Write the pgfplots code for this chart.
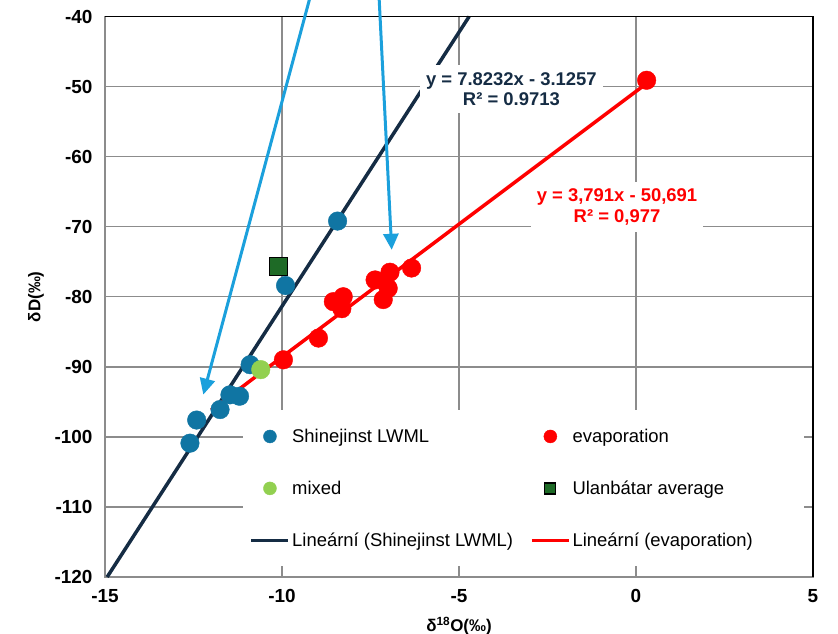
\documentclass[border=0pt]{standalone}
\usepackage{pgfplots}
\pgfplotsset{compat=1.18}
\usepackage{fontspec}
\setmainfont{Liberation Sans}
\usetikzlibrary{arrows.meta}
\definecolor{ptblue}{RGB}{16,117,163}
\definecolor{navy}{RGB}{21,44,68}
\definecolor{evred}{RGB}{255,0,0}
\definecolor{mixgreen}{RGB}{146,208,80}
\definecolor{sqgreen}{RGB}{30,106,38}
\definecolor{arrowblue}{RGB}{27,160,220}
\definecolor{gridgray}{RGB}{140,140,140}
\begin{document}
\begin{tikzpicture}
\begin{axis}[
  at={(105bp,57bp)}, anchor=south west,
  scale only axis, width=708bp, height=560.5bp,
  xmin=-15, xmax=5, ymin=-120, ymax=-40,
  xtick={-15,-10,-5,0,5}, ytick={-120,-110,-100,-90,-80,-70,-60,-50,-40},
  grid=major, major grid style={gridgray, line width=1.4bp},
  axis line style={gridgray, line width=1.4bp},
  major tick length=0pt,
  clip=false,
  /pgf/number format/assume math mode=true,
  tick label style={font=\fontsize{19}{19}\selectfont\bfseries},
  yticklabel style={xshift=-9bp},
  xticklabel style={yshift=-9bp},
  xlabel={\bfseries δ\textsuperscript{18}O(‰)},
  ylabel={\bfseries δD(‰)},
  label style={font=\fontsize{17}{17}\selectfont},
  xlabel style={at={(axis description cs:0.5,0)}, anchor=north, inner sep=0pt, yshift=-40bp},
  ylabel style={at={([xshift=-69bp]axis description cs:0,0.5)}, anchor=center},
  legend image code/.code={\draw[mark repeat=2,mark phase=2,#1] plot coordinates {(0bp,0bp) (18.5bp,0bp) (37bp,0bp)};},
  legend columns=2,
  legend cell align=left,
  legend style={at={(axis cs:-10.918,-107.37)}, anchor=west, inner sep=0pt, draw=none, fill=none,
    font=\fontsize{18.5}{18.5}\selectfont, row sep=33bp,
    /tikz/every even column/.append style={column sep=15bp}},
]
% white legend background
\fill[white] (axis cs:-11.1,-96.1) rectangle (axis cs:4.75,-118.5);
% data
\addplot[only marks, mark=square*, mark size=9bp, mark options={fill=sqgreen, draw=black, line width=1.6bp}, forget plot]
  coordinates {(-10.10,-75.7)};
\addplot[only marks, mark=*, mark size=9.3bp, mark options={fill=ptblue, draw=ptblue}, forget plot]
  coordinates {(-8.43,-69.2) (-9.90,-78.4) (-10.90,-89.7) (-11.47,-94.0) (-11.20,-94.2) (-11.75,-96.1) (-12.41,-97.6) (-12.60,-100.9)};
\addplot[only marks, mark=*, mark size=9.3bp, mark options={fill=evred, draw=evred}, forget plot]
  coordinates {(0.30,-49.1) (-6.34,-75.9) (-6.95,-76.5) (-7.00,-78.8) (-7.37,-77.6) (-7.14,-80.4) (-8.27,-80.0) (-8.55,-80.7) (-8.31,-81.7) (-8.97,-85.9) (-9.96,-89.0)};
\addplot[only marks, mark=*, mark size=9.3bp, mark options={fill=mixgreen, draw=mixgreen}, forget plot]
  coordinates {(-10.60,-90.4)};
% trendlines
\addplot[navy, line width=3.5bp, forget plot] coordinates {(-14.939,-120) (-4.713,-40)};
\addplot[evred, line width=3.5bp, forget plot] coordinates {(-12.0,-96.18) (0.3,-49.55)};
% legend entries
\addlegendimage{only marks, mark=*, mark size=6.5bp, mark options={fill=ptblue, draw=ptblue}}
\addlegendentry{Shinejinst LWML}
\addlegendimage{only marks, mark=*, mark size=6.5bp, mark options={fill=evred, draw=evred}}
\addlegendentry{evaporation}
\addlegendimage{only marks, mark=*, mark size=6.5bp, mark options={fill=mixgreen, draw=mixgreen}}
\addlegendentry{mixed}
\addlegendimage{only marks, mark=square*, mark size=5.5bp, mark options={fill=sqgreen, draw=black, line width=1.2bp}}
\addlegendentry{Ulanbátar average}
\addlegendimage{navy, line width=3.5bp}
\addlegendentry{Lineární (Shinejinst LWML)}
\addlegendimage{evred, line width=3.5bp}
\addlegendentry{Lineární (evaporation)}
% equation labels
\node[fill=white, inner xsep=6bp, inner ysep=7bp, align=center, text=navy, font=\fontsize{18.5}{20.5}\selectfont\bfseries]
  at (axis cs:-3.52,-50.34) {y = 7.8232x - 3.1257\\R² = 0.9713};
\node[fill=white, inner xsep=6bp, inner ysep=7bp, align=center, text=evred, font=\fontsize{18.5}{20.5}\selectfont\bfseries]
  at (axis cs:-0.537,-67.2) {y = 3,791x - 50,691\\R² = 0,977};
% top and right border in black
\draw[black, line width=1.2bp] (rel axis cs:0,1) -- (rel axis cs:1,1) -- (rel axis cs:1,0);
% arrows
\draw[arrowblue, line width=3bp, -{Triangle[length=16bp,width=15bp]}] (axis cs:-9.153,-36.22) -- (axis cs:-12.223,-93.97);
\draw[arrowblue, line width=3bp, -{Triangle[length=16bp,width=15bp]}] (axis cs:-7.268,-36.22) -- (axis cs:-6.901,-73.30);
\end{axis}
\pgfresetboundingbox
\path[use as bounding box] (0,0) rectangle (838bp,634bp);
\end{tikzpicture}
\end{document}
